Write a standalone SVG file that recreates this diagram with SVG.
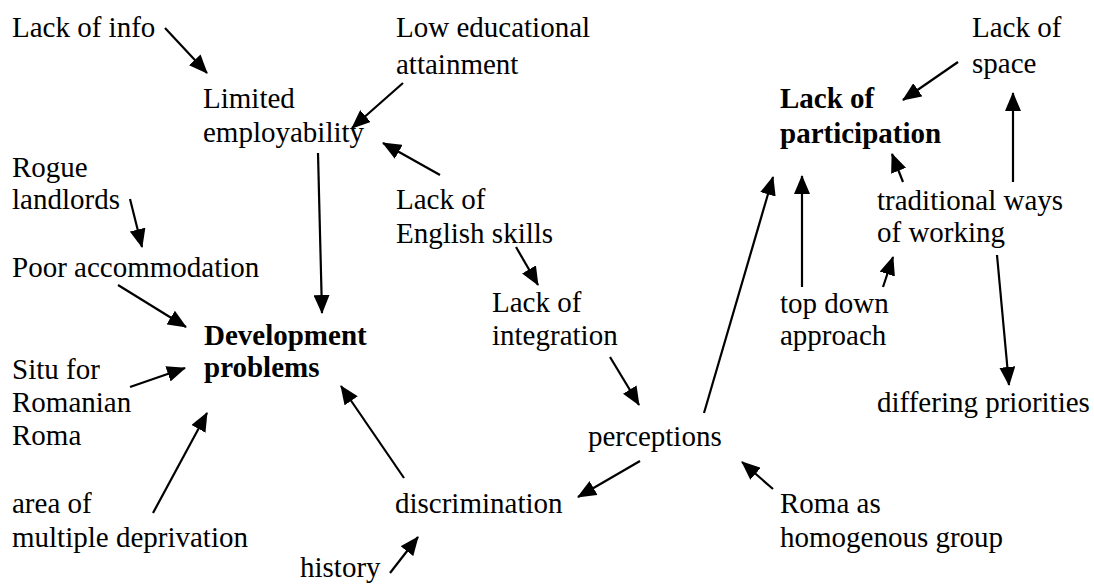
<svg xmlns="http://www.w3.org/2000/svg" width="1094" height="585" viewBox="0 0 1094 585">
<style>
text{font-family:"Liberation Serif","Times New Roman",serif;font-size:29px;fill:#000}
.b{font-weight:bold}
#edges line{stroke:#000;stroke-width:2.2;marker-end:url(#ah)}
</style>
<defs>
<marker id="ah" markerUnits="userSpaceOnUse" markerWidth="19" markerHeight="16" refX="18" refY="8" orient="auto">
<path d="M0,0 L19,8 L0,16 z" fill="#000"/>
</marker>
</defs>
<rect width="1094" height="585" fill="#fff"/>
<g id="n-lack-info"><text x="12" y="37">Lack of info</text></g>
<g id="n-low-edu"><text x="396" y="37">Low educational<tspan x="396" y="74">attainment</tspan></text></g>
<g id="n-limited"><text x="203" y="108">Limited<tspan x="203" y="142">employability</tspan></text></g>
<g id="n-lack-space"><text x="972" y="37">Lack of<tspan x="972" y="73">space</tspan></text></g>
<g id="n-lack-part"><text class="b" x="780" y="108">Lack of<tspan x="780" y="143">participation</tspan></text></g>
<g id="n-rogue"><text x="12" y="177">Rogue<tspan x="12" y="209">landlords</tspan></text></g>
<g id="n-english"><text x="396" y="209">Lack of<tspan x="396" y="243">English skills</tspan></text></g>
<g id="n-traditional"><text x="877" y="210">traditional ways<tspan x="877" y="242">of working</tspan></text></g>
<g id="n-poor"><text x="12" y="277">Poor accommodation</text></g>
<g id="n-integration"><text x="492" y="312">Lack of<tspan x="492" y="345">integration</tspan></text></g>
<g id="n-topdown"><text x="780" y="313">top down<tspan x="780" y="345">approach</tspan></text></g>
<g id="n-dev"><text class="b" x="204" y="345">Development<tspan x="204" y="377">problems</tspan></text></g>
<g id="n-situ"><text x="12" y="379">Situ for<tspan x="12" y="412">Romanian</tspan><tspan x="12" y="445">Roma</tspan></text></g>
<g id="n-differing"><text x="877" y="412">differing priorities</text></g>
<g id="n-perceptions"><text x="588" y="446">perceptions</text></g>
<g id="n-area"><text x="12" y="513">area of<tspan x="12" y="547">multiple deprivation</tspan></text></g>
<g id="n-discrimination"><text x="395" y="513">discrimination</text></g>
<g id="n-roma-homog"><text x="780" y="513">Roma as<tspan x="780" y="547">homogenous group</tspan></text></g>
<g id="n-history"><text x="300" y="577">history</text></g>
<g id="edges">
<line x1="165" y1="28" x2="207" y2="73"/>
<line x1="403" y1="83" x2="352" y2="128"/>
<line x1="440" y1="175" x2="383" y2="143"/>
<line x1="318" y1="153" x2="322" y2="313"/>
<line x1="130" y1="199" x2="142" y2="247"/>
<line x1="118" y1="285" x2="186" y2="327"/>
<line x1="130" y1="387" x2="185" y2="368"/>
<line x1="153" y1="513" x2="207" y2="413"/>
<line x1="404" y1="478" x2="341" y2="386"/>
<line x1="390" y1="573" x2="418" y2="537"/>
<line x1="640" y1="461" x2="578" y2="497"/>
<line x1="516" y1="247" x2="538" y2="285"/>
<line x1="610" y1="357" x2="639" y2="405"/>
<line x1="704" y1="413" x2="773" y2="177"/>
<line x1="802" y1="287" x2="802" y2="176"/>
<line x1="883" y1="287" x2="893" y2="257"/>
<line x1="903" y1="182" x2="892" y2="154"/>
<line x1="997" y1="255" x2="1009" y2="385"/>
<line x1="1013" y1="182" x2="1013" y2="93"/>
<line x1="958" y1="62" x2="903" y2="100"/>
<line x1="773" y1="489" x2="742" y2="462"/>
</g>
</svg>
